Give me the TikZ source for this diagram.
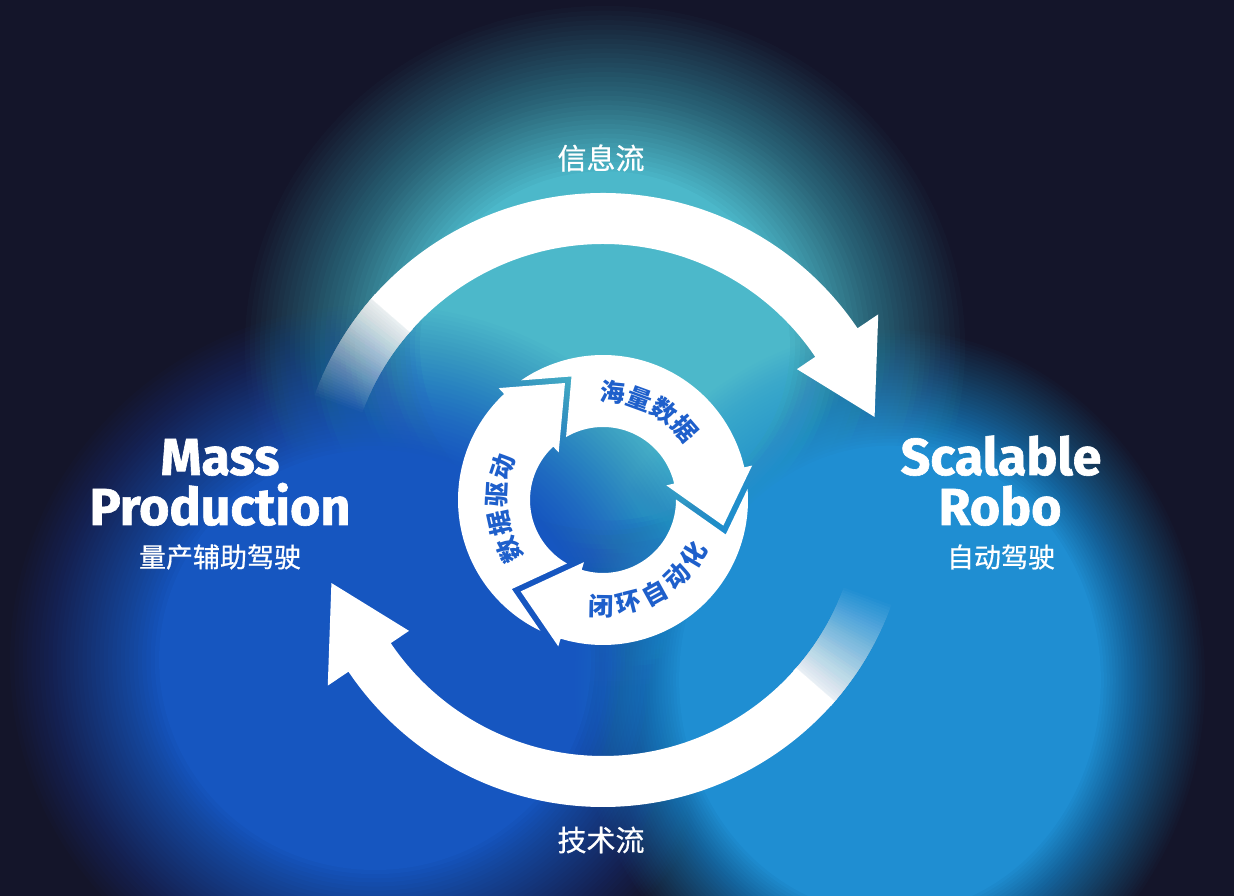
\documentclass[tikz,border=0pt]{standalone}
\usepackage{fontspec}
\newfontfamily\cjk{Noto Sans CJK SC}
\newfontfamily\cjkmed{Noto Sans CJK SC}[FakeBold=0.6]
\newfontfamily\titlefont{Fira Sans}[BoldFeatures={FakeBold=1.2}]
\definecolor{bg}{HTML}{14152A}
\definecolor{cyanblob}{HTML}{4CB8CA}
\definecolor{blueL}{HTML}{1656C0}
\definecolor{blueR}{HTML}{1F8ED2}
\definecolor{txtblue}{HTML}{1E5FCB}
% soft blob: colour, centre x, centre y, x radius, y radius, solid fraction
\newcommand\softblob[6]{%
  \foreach \k in {1,...,36}{%
    \pgfmathsetmacro{\ff}{1-(\k-1)*(1-#6)/36}%
    \pgfmathsetmacro{\oo}{1/(37-\k)}%
    \fill[#1, opacity=\oo] (#2,#3) ellipse[x radius=\ff*#4, y radius=\ff*#5];
  }}
% faded start of a big arc: start angle (opaque end)
\newcommand\arcfade[1]{%
  \foreach \j in {1,...,40}{%
    \pgfmathsetmacro{\ee}{#1+0.55*\j}%
    \pgfmathsetmacro{\oo}{1/\j}%
    \fill[white, opacity=\oo] (#1:307) arc[start angle=#1, end angle=\ee, radius=307]
      -- (\ee:256) arc[start angle=\ee, end angle=#1, radius=256] -- cycle;
  }}
\newcommand\ringseg[2]{%
  \fill[white] ({#1-8.6}:145) arc[start angle={#1-8.6}, end angle=#2, radius=145]
    -- (#2:153) -- ({#2-25}:123) -- (#2:65) -- (#2:73)
    arc[start angle=#2, end angle={#1-12.6}, radius=73]
    -- ({#1-28.7}:127.5) -- cycle;}
\tikzset{
  ringtxt/.style={font=\cjk\bfseries\fontsize{25}{25}\selectfont, text=txtblue, inner sep=0pt},
  flowtxt/.style={font=\cjkmed\fontsize{29}{29}\selectfont, text=white, inner sep=0pt},
  subtxt/.style={font=\cjkmed\fontsize{27}{27}\selectfont, text=white, inner sep=0pt},
  titletxt/.style={font=\titlefont\bfseries\fontsize{52}{52}\selectfont, text=white, inner sep=0pt, anchor=base}
}
\begin{document}
\begin{tikzpicture}[x=1pt,y=1pt]
\useasboundingbox (0,0) rectangle (1234,896);
\clip (0,0) rectangle (1234,896);
\fill[bg] (0,0) rectangle (1234,896);
% glowing blobs
\softblob{cyanblob}{605}{550}{360}{340}{0.5}
\softblob{blueL}{375}{236}{365}{355}{0.58}
\softblob{blueR}{890}{216}{315}{350}{0.66}

% outer cycle
\begin{scope}[shift={(603,396)}]
  \fill[white] (139:307) arc[start angle=139, end angle=34, radius=307]
    -- (34:332) -- (17:284) -- (34:234) -- (34:256)
    arc[start angle=34, end angle=139, radius=256] -- cycle;
  \fill[white] (319:307) arc[start angle=319, end angle=214, radius=307]
    -- (214:332) -- (197:284) -- (214:234) -- (214:256)
    arc[start angle=214, end angle=319, radius=256] -- cycle;
  \arcfade{138}
  \arcfade{318}
  % inner cycle
  \ringseg{253}{133}
  \ringseg{133}{13}
  \ringseg{13}{-107}
  \foreach \ch/\ang [count=\k] in {海/84.5, 量/70, 数/55.5, 据/41}
    \node[ringtxt, rotate=\ang-90] (hai\k) at (\ang:108) {\ch};
  \foreach \ch/\ang [count=\k] in {数/208, 据/192.5, 驱/177, 动/161.5}
    \node[ringtxt, rotate=\ang-90] (qu\k) at (\ang:106) {\ch};
  \foreach \ch/\ang [count=\k] in {闭/269, 环/284, 自/299, 动/314, 化/329}
    \node[ringtxt, rotate=\ang+90] (bi\k) at (\ang:106) {\ch};
\end{scope}

% labels
\node[flowtxt] (info) at (601,738) {信息流};
\node[flowtxt] (tech) at (601,56) {技术流};
\node[titletxt] (mass) at (220,421) {Mass};
\node[titletxt] (prod) at (220,371) {Production};
\node[subtxt] (mpcn) at (220,339) {量产辅助驾驶};
\node[titletxt] (scal) at (1001,421) {Scalable};
\node[titletxt] (robo) at (1000,371) {Robo};
\node[subtxt] (srcn) at (1001,339) {自动驾驶};
\end{tikzpicture}
\end{document}
